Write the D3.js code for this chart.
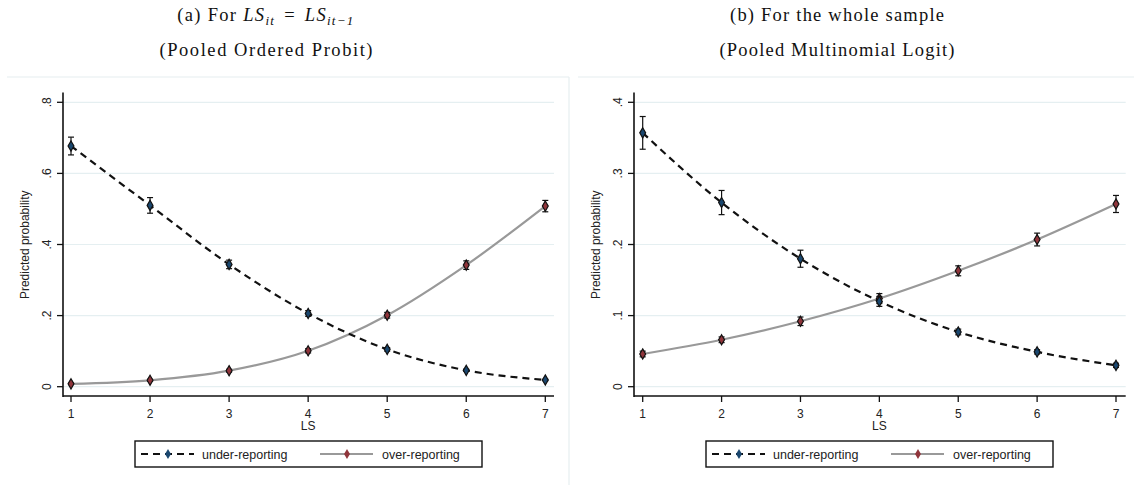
<!DOCTYPE html>
<html>
<head>
<meta charset="utf-8">
<script src="https://cdn.jsdelivr.net/npm/d3@7"></script>
<style>
html,body{margin:0;padding:0;background:#fff;}
svg{display:block;}
</style>
</head>
<body>
<svg id="chart" width="1134" height="485"></svg>
<script>
// ---------- data ----------
const lsCategories = [1, 2, 3, 4, 5, 6, 7];
const seriesNames = ["under-reporting", "over-reporting"];

// Panel (a): Pooled Ordered Probit
const aUnder    = [0.677, 0.510, 0.344, 0.206, 0.105, 0.046, 0.019];
const aUnderErr = [0.025, 0.022, 0.012, 0.008, 0.005, 0.003, 0.002];
const aOver     = [0.008, 0.018, 0.045, 0.101, 0.201, 0.342, 0.508];
const aOverErr  = [0.002, 0.003, 0.004, 0.006, 0.008, 0.012, 0.016];
const aTicks = [0, 0.2, 0.4, 0.6, 0.8];
const aTickLabels = ["0", ".2", ".4", ".6", ".8"];

// Panel (b): Pooled Multinomial Logit
const bUnder    = [0.357, 0.259, 0.180, 0.120, 0.077, 0.049, 0.030];
const bUnderErr = [0.023, 0.017, 0.012, 0.007, 0.004, 0.003, 0.003];
const bOver     = [0.046, 0.066, 0.092, 0.124, 0.163, 0.207, 0.257];
const bOverErr  = [0.004, 0.004, 0.006, 0.007, 0.007, 0.009, 0.012];
const bTicks = [0, 0.1, 0.2, 0.3, 0.4];
const bTickLabels = ["0", ".1", ".2", ".3", ".4"];

const titlesA = ["(a) For ", "(Pooled Ordered Probit)"];
const titlesB = ["(b) For the whole sample", "(Pooled Multinomial Logit)"];

// ---------- drawing ----------
const svg = d3.select("#chart");
const sans = "'Liberation Sans', Arial, sans-serif";
const serif = "'Liberation Serif', 'DejaVu Serif', serif";
const underColor = "#1a476f", overColor = "#90353b";

// panel outlines (light)
const outline = "#e6eef0";
svg.append("line").attr("x1",7).attr("x2",569).attr("y1",77).attr("y2",77).attr("stroke",outline).attr("stroke-width",1.2);
svg.append("line").attr("x1",569).attr("x2",569).attr("y1",77).attr("y2",485).attr("stroke",outline).attr("stroke-width",1.2);
svg.append("line").attr("x1",578).attr("x2",1134).attr("y1",77).attr("y2",77).attr("stroke",outline).attr("stroke-width",1.2);

function drawPanel(o) {
  const g = svg.append("g");
  const x = d3.scaleLinear().domain([1, 7]).range([o.x1, o.x7]);
  const y = d3.scaleLinear().domain([0, o.yMax]).range([386.7, 102.3]);

  // titles
  const t1 = g.append("text").attr("x", o.titleX).attr("y", 21).attr("text-anchor","middle")
    .attr("font-family", serif).attr("font-size", 18.5).attr("fill","#111");
  if (o.math) {
    t1.attr("letter-spacing", 1.3);
    t1.append("tspan").text(o.titles[0]);
    t1.append("tspan").attr("font-style","italic").text("LS");
    t1.append("tspan").attr("font-style","italic").attr("font-size",13).attr("dy",4).text("it");
    t1.append("tspan").attr("dy",-4).attr("dx",3).text(" = ");
    t1.append("tspan").attr("dx",3).attr("font-style","italic").text("LS");
    t1.append("tspan").attr("font-style","italic").attr("font-size",13).attr("dy",4).text("it−1");
  } else {
    t1.text(o.titles[0]).attr("textLength", o.t1Len).attr("lengthAdjust","spacing");
  }
  g.append("text").attr("x", o.titleX).attr("y", 56).attr("text-anchor","middle")
    .attr("font-family", serif).attr("font-size", 18.5).attr("fill","#111")
    .attr("textLength", o.t2Len).attr("lengthAdjust","spacing").text(o.titles[1]);

  // gridlines
  g.selectAll(".grid").data(o.ticks).enter().append("line")
    .attr("x1", o.axisX).attr("x2", o.axisEnd)
    .attr("y1", d => y(d)).attr("y2", d => y(d))
    .attr("stroke", "#e5eff1").attr("stroke-width", 1.2);

  // y axis
  g.append("line").attr("x1", o.axisX).attr("x2", o.axisX).attr("y1", 92.5).attr("y2", 397)
    .attr("stroke", "#111").attr("stroke-width", 1.6);
  g.selectAll(".ytick").data(o.ticks).enter().append("line")
    .attr("x1", o.axisX - 6).attr("x2", o.axisX).attr("y1", d => y(d)).attr("y2", d => y(d))
    .attr("stroke", "#111").attr("stroke-width", 1.3);
  g.selectAll(".ylab").data(o.ticks).enter().append("text")
    .attr("transform", d => `translate(${o.axisX - 12},${y(d)}) rotate(-90)`)
    .attr("text-anchor", "middle").attr("font-family", sans).attr("font-size", 12).attr("fill","#222")
    .text((d, i) => o.tickLabels[i]);
  g.append("text")
    .attr("transform", `translate(${o.axisX - 34},${(92.5+397)/2}) rotate(-90)`)
    .attr("text-anchor","middle").attr("font-family", sans).attr("font-size", 12).attr("fill","#222")
    .text("Predicted probability");

  // x axis
  g.append("line").attr("x1", o.axisX).attr("x2", o.axisEnd).attr("y1", 396).attr("y2", 396)
    .attr("stroke", "#111").attr("stroke-width", 1.6);
  g.selectAll(".xtick").data(lsCategories).enter().append("line")
    .attr("x1", d => x(d)).attr("x2", d => x(d)).attr("y1", 396).attr("y2", 402)
    .attr("stroke", "#111").attr("stroke-width", 1.3);
  g.selectAll(".xlab").data(lsCategories).enter().append("text")
    .attr("x", d => x(d)).attr("y", 418).attr("text-anchor","middle")
    .attr("font-family", sans).attr("font-size", 12).attr("fill","#222").text(d => d);
  g.append("text").attr("x", x(4)).attr("y", 430).attr("text-anchor","middle")
    .attr("font-family", sans).attr("font-size", 12).attr("fill","#222").text("LS");

  const line = d3.line().x((d, i) => x(lsCategories[i])).y(d => y(d)).curve(d3.curveMonotoneX);

  function series(vals, errs, stroke, dash, mcolor) {
    g.append("path").attr("d", line(vals)).attr("fill","none")
      .attr("stroke", stroke).attr("stroke-width", 2.2).attr("stroke-dasharray", dash);
    const eb = g.append("g");
    vals.forEach((v, i) => {
      const cx = x(lsCategories[i]);
      const lo = y(v - errs[i]), hi = y(v + errs[i]);
      eb.append("line").attr("x1",cx).attr("x2",cx).attr("y1",lo).attr("y2",hi).attr("stroke","#111").attr("stroke-width",1.2);
      eb.append("line").attr("x1",cx-3).attr("x2",cx+3).attr("y1",lo).attr("y2",lo).attr("stroke","#111").attr("stroke-width",1.2);
      eb.append("line").attr("x1",cx-3).attr("x2",cx+3).attr("y1",hi).attr("y2",hi).attr("stroke","#111").attr("stroke-width",1.2);
    });
    g.selectAll(null).data(vals).enter().append("path")
      .attr("d", d3.symbol().type(d3.symbolDiamond).size(30))
      .attr("transform", (d, i) => `translate(${x(lsCategories[i])},${y(d)})`)
      .attr("fill", mcolor).attr("stroke", "#111").attr("stroke-width", 1.2);
  }
  series(o.over, o.overErr, "#999", null, overColor);
  series(o.under, o.underErr, "#111", "7,5", underColor);

  // legend
  const lg = g.append("g");
  lg.append("rect").attr("x", o.legX).attr("y", 441).attr("width", o.legW).attr("height", 26)
    .attr("fill","#fff").attr("stroke","#111").attr("stroke-width",1.4);
  const ly = 454;
  lg.append("line").attr("x1", o.legX + 6).attr("x2", o.legX + 59).attr("y1", ly).attr("y2", ly)
    .attr("stroke","#111").attr("stroke-width",2.2).attr("stroke-dasharray","7,5");
  lg.append("path").attr("d", d3.symbol().type(d3.symbolDiamond).size(30))
    .attr("transform", `translate(${o.legX + 33},${ly})`).attr("fill", underColor);
  lg.append("text").attr("x", o.legX + 67).attr("y", ly + 4.5).attr("font-family", sans)
    .attr("font-size", 12.5).attr("fill","#222").text(seriesNames[0]);
  const ox = o.legX + 185;
  lg.append("line").attr("x1", ox).attr("x2", ox + 53).attr("y1", ly).attr("y2", ly)
    .attr("stroke","#999").attr("stroke-width",2.2);
  lg.append("path").attr("d", d3.symbol().type(d3.symbolDiamond).size(30))
    .attr("transform", `translate(${ox + 27},${ly})`).attr("fill", overColor);
  lg.append("text").attr("x", ox + 62).attr("y", ly + 4.5).attr("font-family", sans)
    .attr("font-size", 12.5).attr("fill","#222").text(seriesNames[1]);
}

drawPanel({
  x1: 71, x7: 545.3, axisX: 63, axisEnd: 554, yMax: 0.8,
  ticks: aTicks, tickLabels: aTickLabels,
  under: aUnder, underErr: aUnderErr, over: aOver, overErr: aOverErr,
  titles: titlesA, titleX: 266, math: true, t1Len: 192, t2Len: 213,
  legX: 135, legW: 347
});
drawPanel({
  x1: 642.7, x7: 1116, axisX: 634, axisEnd: 1125.7, yMax: 0.4,
  ticks: bTicks, tickLabels: bTickLabels,
  under: bUnder, underErr: bUnderErr, over: bOver, overErr: bOverErr,
  titles: titlesB, titleX: 837, math: false, t1Len: 214, t2Len: 235,
  legX: 706, legW: 347
});
</script>
</body>
</html>
